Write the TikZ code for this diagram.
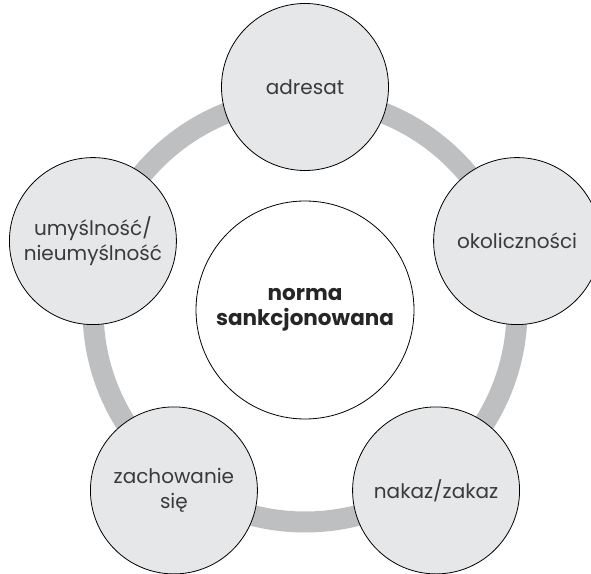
\documentclass[tikz,border=0pt]{standalone}
\usepackage{fontspec}
\setmainfont{Poppins}
\usetikzlibrary{calc}
\definecolor{ringgray}{HTML}{BEBFC1}
\definecolor{fillgray}{HTML}{E6E7E8}
\definecolor{textgray}{HTML}{3A393B}
\tikzset{
  part/.style={draw, circle, fill=fillgray, line width=0.8pt, minimum size=167pt,
    inner sep=0pt, align=center, text=textgray, font=\fontsize{20}{24.5}\selectfont},
  core/.style={draw, circle, fill=white, line width=0.8pt, minimum size=218pt,
    inner sep=0pt, align=center, text=black!85, font=\bfseries\fontsize{21.5}{25.5}\selectfont},
  ring/.style={draw=ringgray, line width=21pt}
}
\begin{document}
\begin{tikzpicture}[x=1pt,y=1pt]
\useasboundingbox (0,0) rectangle (591,573);
\coordinate (M) at (305,263);
\draw[ring] (M) circle (212);

\node[core](N) at (M) {norma\\sankcjonowana};

\node[part](A) at ($(M)+(90:223)$) {adresat};
\node[part](O) at ($(M)+(18:223)$) {okoliczności};
\node[part](Z) at ($(M)+(-54:223)$) {nakaz/zakaz};
\node[part](S) at ($(M)+(-126:223)$) {zachowanie\\się};
\node[part](U) at ($(M)+(162:223)$) {umyślność/\\nieumyślność};
\end{tikzpicture}
\end{document}
